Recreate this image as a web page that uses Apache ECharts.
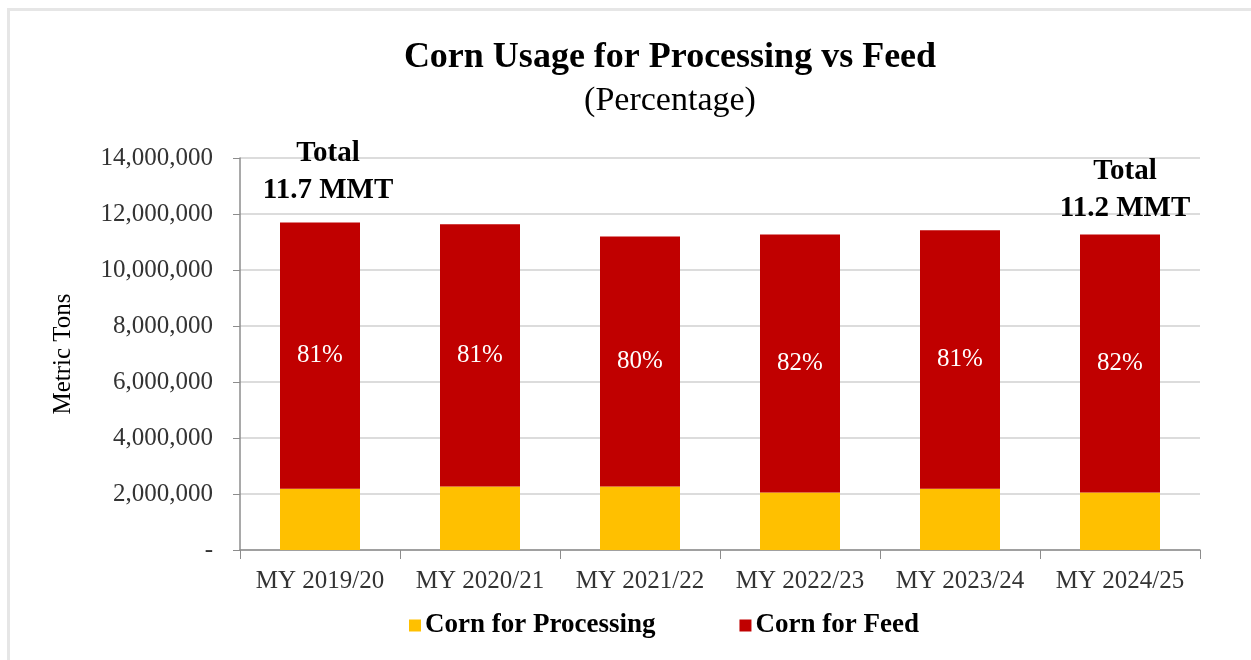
<!DOCTYPE html>
<html>
<head>
<meta charset="utf-8">
<script src="https://cdn.jsdelivr.net/npm/echarts@6/dist/echarts.min.js"></script>
<style>
html,body{margin:0;padding:0;background:#fff;}
#frame{position:absolute;left:7px;top:8px;width:1260px;height:670px;border-left:3px solid #e6e6e6;border-top:3px solid #e6e6e6;}
#chart{position:absolute;left:0;top:0;width:1251px;height:660px;}
</style>
</head>
<body>
<div id="frame"></div>
<div id="chart"></div>
<script>
var categories = ['MY 2019/20','MY 2020/21','MY 2021/22','MY 2022/23','MY 2023/24','MY 2024/25'];
var processing = [2190000, 2270000, 2270000, 2050000, 2190000, 2050000];
var feed = [9510000, 9360000, 8930000, 9220000, 9230000, 9220000];
var feedPct = ['81%','81%','80%','82%','81%','82%'];
var totalNotes = [
  {index: 0, text: 'Total\n11.7 MMT', offset: [8, -8]},
  {index: 5, text: 'Total\n11.2 MMT', offset: [5, -2]}
];
var yTicks = {min: 0, max: 14000000, interval: 2000000};

var serif = '"Liberation Serif","Times New Roman",serif';
var chart = echarts.init(document.getElementById('chart'));
chart.setOption({
  animation: false,
  title: [
    {text: 'Corn Usage for Processing vs Feed', left: 665, top: 35, textAlign: 'center',
     textStyle: {fontFamily: serif, fontSize: 36, fontWeight: 'bold', color: '#000'}},
    {text: '(Percentage)', left: 665, top: 79, textAlign: 'center',
     textStyle: {fontFamily: serif, fontSize: 34, fontWeight: 'normal', color: '#000'}}
  ],
  legend: {
    top: 607, left: 404, itemGap: 84, itemWidth: 12, itemHeight: 12, icon: 'rect',
    textStyle: {fontFamily: serif, fontSize: 27, fontWeight: 'bold', color: '#000', padding: [0,0,0,-1]},
    data: ['Corn for Processing','Corn for Feed']
  },
  grid: {left: 240, right: 51, top: 158, bottom: 110},
  xAxis: {
    type: 'category', data: categories,
    axisLine: {lineStyle: {color: '#8c8c8c', width: 1.5}},
    axisTick: {show: true, length: 9, interval: 0, lineStyle: {color: '#8c8c8c'}},
    axisLabel: {fontFamily: serif, fontSize: 25, color: '#333', margin: 19, interval: 0}
  },
  yAxis: {
    type: 'value', min: yTicks.min, max: yTicks.max, interval: yTicks.interval,
    name: 'Metric Tons', nameLocation: 'middle', nameGap: 164, nameRotate: 90,
    nameTextStyle: {fontFamily: serif, fontSize: 25, color: '#000'},
    axisLine: {show: true, lineStyle: {color: '#8c8c8c', width: 1.5}},
    axisTick: {show: true, length: 7, lineStyle: {color: '#8c8c8c'}},
    splitLine: {lineStyle: {color: '#d0d0d0', width: 1.5}},
    axisLabel: {fontFamily: serif, fontSize: 25, color: '#333', margin: 27,
      formatter: function (v) { return v === 0 ? '-' : v.toLocaleString('en-US'); }}
  },
  series: [
    {name: 'Corn for Processing', type: 'bar', stack: 'corn', barWidth: 80, data: processing,
     itemStyle: {color: '#FFC000'}},
    {name: 'Corn for Feed', type: 'bar', stack: 'corn', barWidth: 80, data: feed,
     itemStyle: {color: '#C00000'},
     label: {show: true, position: 'inside', fontFamily: serif, fontSize: 25, color: '#fff',
       formatter: function (p) { return feedPct[p.dataIndex]; }},
     markPoint: {
       symbol: 'circle', symbolSize: 0,
       data: totalNotes.map(function (n) {
         return {coord: [categories[n.index], processing[n.index] + feed[n.index]],
           label: {show: true, position: 'top', offset: n.offset, formatter: n.text,
             fontFamily: serif, fontSize: 29, fontWeight: 'bold', color: '#000', lineHeight: 37}};
       })
     }}
  ]
});
</script>
</body>
</html>
